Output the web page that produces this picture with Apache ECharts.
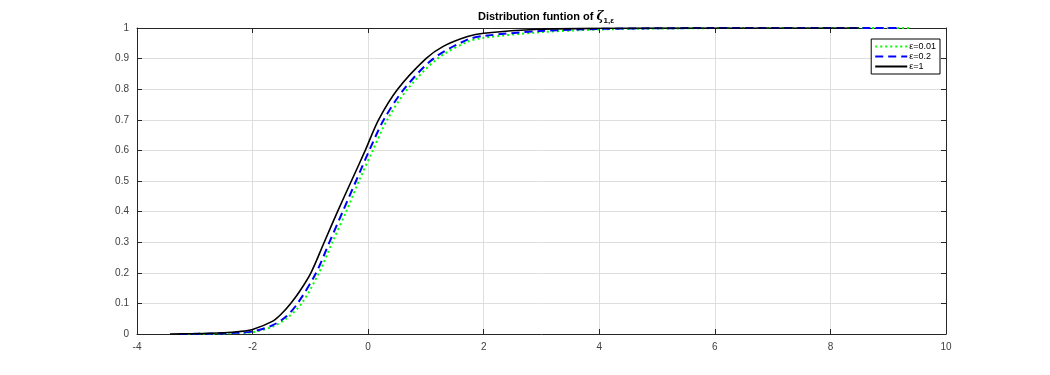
<!DOCTYPE html>
<html>
<head>
<meta charset="utf-8">
<script src="https://cdn.jsdelivr.net/npm/echarts@6/dist/echarts.min.js"></script>
<style>
  html, body { margin: 0; padding: 0; background: #fff; }
  #chart { width: 1050px; height: 375px; }
</style>
</head>
<body>
<div id="chart"></div>
<script>
'use strict';

// values: [x, F(x)]
var eps001 = [
    [-3.2, 0], [-2.7, 0.001], [-2.3, 0.003], [-2.0, 0.006], [-1.65, 0.024], [-1.42, 0.05],
    [-1.15, 0.1], [-0.85, 0.2], [-0.62, 0.3], [-0.38, 0.4], [-0.16, 0.5], [0.08, 0.6],
    [0.33, 0.7], [0.68, 0.8], [1.2, 0.9], [1.72, 0.955], [2.0, 0.968], [2.96, 0.986],
    [4.0, 0.995], [5.0, 0.998], [6.5, 1.0], [9.36, 1.0]
];
var eps02 = [
    [-3.27, 0], [-2.8, 0.001], [-2.3, 0.004], [-2.0, 0.008], [-1.65, 0.029], [-1.42, 0.057],
    [-1.22, 0.1], [-0.90, 0.2], [-0.67, 0.3], [-0.44, 0.4], [-0.21, 0.5], [0.02, 0.6],
    [0.27, 0.7], [0.62, 0.8], [1.13, 0.9], [1.72, 0.962], [2.0, 0.974], [2.96, 0.99],
    [4.0, 0.997], [5.0, 0.999], [6.0, 1.0], [9.22, 1.0]
];
var eps1 = [
    [-3.43, 0], [-3.0, 0.001], [-2.5, 0.004], [-2.23, 0.008], [-2.0, 0.015], [-1.65, 0.042],
    [-1.5, 0.066], [-1.34, 0.1], [-1.19, 0.138], [-0.99, 0.2], [-0.76, 0.3], [-0.53, 0.4],
    [-0.29, 0.5], [-0.05, 0.6], [0.18, 0.7], [0.51, 0.8], [1.0, 0.9], [1.3, 0.94],
    [1.72, 0.972], [2.0, 0.983], [2.96, 0.996], [4.0, 0.999], [6.0, 1.0], [8.5, 1.0]
];
var seriesNames = ['ε=0.01', 'ε=0.2', 'ε=1'];
var titleText = 'Distribution funtion of ';

var chart = echarts.init(document.getElementById('chart'), null, {renderer: 'canvas'});

var gridColor = '#dedede';
var axisColor = '#262626';
var labelStyle = {color: '#404040', fontFamily: 'Liberation Sans, Arial', fontSize: 10};

function makeSeries(name, data, color, width, type) {
    return {
        name: name,
        type: 'line',
        data: data,
        smooth: 0.3,
        showSymbol: false,
        symbol: 'none',
        animation: false,
        lineStyle: {color: color, width: width, type: type},
        itemStyle: {color: color}
    };
}

var option = {
    backgroundColor: '#ffffff',
    animation: false,
    title: {
        text: '{a|' + titleText + '}{z|ζ}{s|1,ε}',
        left: 541,
        textAlign: 'center',
        top: 4,
        textStyle: {
            rich: {
                a: {fontFamily: 'Liberation Sans, Arial', fontWeight: 'bold', fontSize: 11, color: '#000'},
                z: {fontFamily: 'DejaVu Serif', fontSize: 12, color: '#000', fontStyle: 'italic'},
                s: {fontFamily: 'Liberation Sans, Arial', fontWeight: 'bold', fontSize: 8, color: '#000', verticalAlign: 'bottom', padding: [8, 0, 0, 0]}
            }
        }
    },
    legend: {
        data: seriesNames,
        orient: 'vertical',
        right: 110,
        top: 39,
        itemWidth: 32,
        itemHeight: 10,
        itemGap: 1,
        padding: [3, 4, 3, 3],
        backgroundColor: '#fff',
        borderColor: '#000',
        borderWidth: 1,
        borderRadius: 0,
        itemStyle: {opacity: 0},
        textStyle: {fontFamily: 'Liberation Sans, Arial', fontSize: 9, color: '#000', padding: [0, 0, 0, -3]}
    },
    grid: {left: 137, right: 104, top: 28, bottom: 41, containLabel: false},
    xAxis: [
        {
            type: 'value',
            min: -4,
            max: 10,
            interval: 2,
            position: 'bottom',
            axisLine: {show: true, onZero: false, lineStyle: {color: axisColor, width: 1}},
            axisTick: {show: true, inside: true, length: 5, lineStyle: {color: axisColor}},
            axisLabel: Object.assign({margin: 8}, labelStyle),
            splitLine: {show: true, lineStyle: {color: gridColor, width: 1}}
        },
        {
            type: 'value',
            min: -4,
            max: 10,
            interval: 2,
            position: 'top',
            axisLine: {show: true, onZero: false, lineStyle: {color: axisColor, width: 1}},
            axisTick: {show: true, inside: true, length: 5, lineStyle: {color: axisColor}},
            axisLabel: {show: false},
            splitLine: {show: false}
        }
    ],
    yAxis: [
        {
            type: 'value',
            min: 0,
            max: 1,
            interval: 0.1,
            position: 'left',
            axisLine: {show: true, onZero: false, lineStyle: {color: axisColor, width: 1}},
            axisTick: {show: true, inside: true, length: 5, lineStyle: {color: axisColor}},
            axisLabel: Object.assign({margin: 8}, labelStyle),
            splitLine: {show: true, lineStyle: {color: gridColor, width: 1}}
        },
        {
            type: 'value',
            min: 0,
            max: 1,
            interval: 0.1,
            position: 'right',
            axisLine: {show: true, onZero: false, lineStyle: {color: axisColor, width: 1}},
            axisTick: {show: true, inside: true, length: 5, lineStyle: {color: axisColor}},
            axisLabel: {show: false},
            splitLine: {show: false}
        }
    ],
    series: [
        makeSeries(seriesNames[0], eps001, '#00ff00', 2, [2, 3]),
        makeSeries(seriesNames[1], eps02, '#0000ff', 2, [8, 5]),
        makeSeries(seriesNames[2], eps1, '#000000', 1.6, 'solid')
    ]
};

chart.setOption(option);
</script>
</body>
</html>
